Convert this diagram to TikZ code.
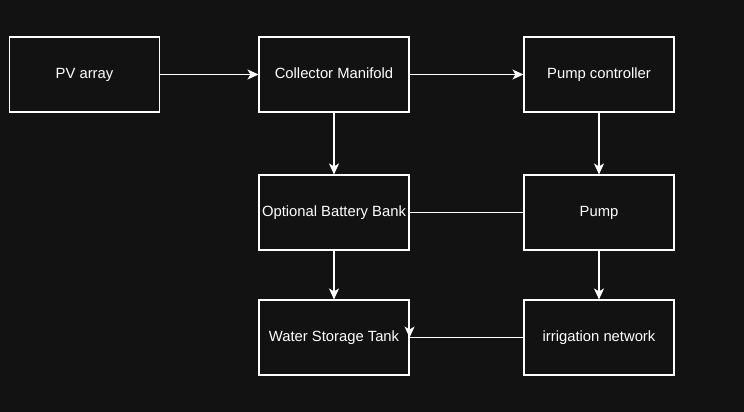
\documentclass[tikz,border=0pt]{standalone}
\usepackage{fontspec}
\setmainfont{Liberation Sans}
\usetikzlibrary{arrows.meta,positioning}
\definecolor{bgdark}{HTML}{121212}

\begin{document}
\begin{tikzpicture}[x=1pt,y=-1pt,
  box/.style={draw=white, line width=1.1pt, fill=bgdark, text=white,
    minimum width=150pt, minimum height=75pt, inner sep=0pt,
    text height=9pt, text depth=1pt,
    font=\fontsize{14.8}{17}\selectfont},
  arr/.style={draw=white, line width=1.1pt, -{Stealth[length=11pt,width=10pt,inset=3pt]}},
  lnk/.style={draw=white, line width=1.1pt}
 ]
  \fill[bgdark] (0,0) rectangle (744,412);
  \useasboundingbox (0,0) rectangle (744,412);

  % top row
  \node [box] (pv) at (84.5,74.5) {PV array};
  \node [box] (manifold) at (334,74.5) {Collector Manifold};
  \node [box] (ctrl) at (599,74.5) {Pump controller};
  % middle row
  \node [box] (battery) at (334,212.5) {Optional Battery Bank};
  \node [box] (pump) at (599,212.5) {Pump};
  % bottom row
  \node [box] (tank) at (334,337.5) {Water Storage Tank};
  \node [box] (irrig) at (599,337.5) {irrigation network};

  \draw [arr] (pv) -- (manifold);
  \draw [arr] (manifold) -- (ctrl);
  \draw [arr] (manifold) -- (battery);
  \draw [arr] (ctrl) -- (pump);
  \draw [arr] (battery) -- (tank);
  \draw [arr] (pump) -- (irrig);
  \draw [lnk] (battery) -- (pump);
  \draw [lnk] (irrig) -- (tank);
  \draw [arr] ([yshift=3pt]tank.east) -- (tank.east);
\end{tikzpicture}
\end{document}
